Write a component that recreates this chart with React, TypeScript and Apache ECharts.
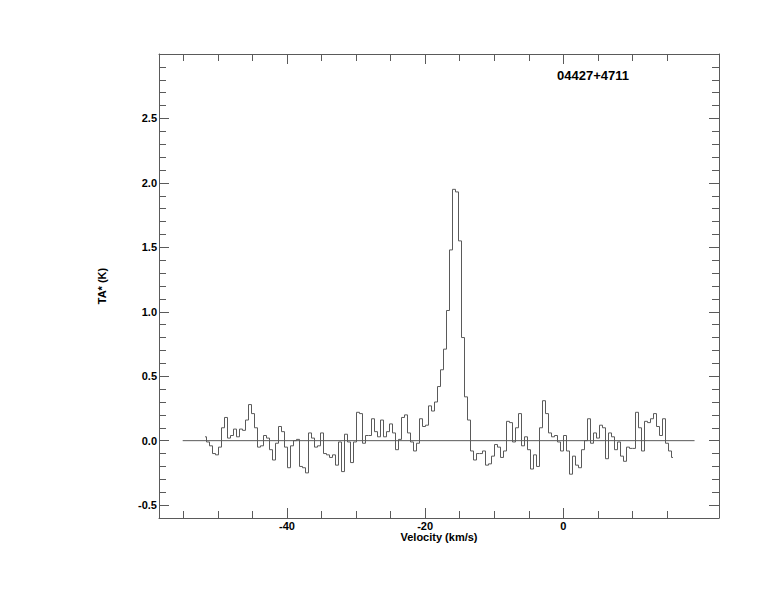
import { useEffect, useRef } from "react";
import * as echarts from "echarts";

// Spectrum: antenna temperature TA* (K) per channel; velocity grid = reference velocity + channel increment
const V0 = -51.87; // km/s, centre of first channel
const DV = 0.4343; // km/s per channel
const TA = [
  0.03, -0.01, -0.04, -0.1, -0.11, -0.05, 0.1, 0.18, 0.02, 0.04,
  0.09, 0.03, 0.09, 0.08, 0.16, 0.28, 0.21, 0.1, -0.05, -0.04,
  0.04, 0.02, -0.07, -0.15, -0.02, 0.11, 0.07, -0.05, -0.21, -0.04,
  0.0, 0.01, -0.2, -0.21, -0.25, 0.06, 0.02, -0.05, -0.04, 0.06,
  -0.1, -0.11, -0.13, -0.11, -0.19, -0.01, -0.24, 0.05, -0.01, -0.17,
  -0.01, 0.22, 0.21, -0.02, 0.04, 0.04, 0.17, 0.07, 0.03, 0.16,
  0.03, 0.07, 0.13, 0.06, -0.07, 0.01, 0.18, 0.2, 0.06, -0.01,
  -0.08, -0.02, 0.17, 0.11, 0.12, 0.27, 0.23, 0.3, 0.42, 0.55,
  0.71, 1.01, 1.48, 1.95, 1.93, 1.55, 0.8, 0.34, 0.16, -0.08,
  -0.15, -0.1, -0.1, -0.08, -0.19, -0.18, -0.12, -0.03, -0.05, -0.13,
  -0.08, 0.15, 0.14, -0.01, 0.1, 0.21, -0.04, 0.03, -0.07, -0.22,
  -0.11, -0.2, 0.1, 0.31, 0.21, 0.06, 0.03, 0.04, -0.01, -0.08,
  0.04, -0.08, -0.26, -0.12, -0.19, -0.21, -0.07, 0.0, 0.17, -0.02,
  0.06, 0.02, 0.12, 0.1, -0.14, 0.06, 0.03, -0.07, -0.01, -0.12,
  -0.16, -0.05, -0.06, -0.06, 0.22, 0.1, -0.08, 0.15, 0.14, 0.17,
  0.21, 0.11, 0.04, 0.17, -0.02, -0.08, -0.13,
];
const VELOCITY = TA.map((_, i) => +(V0 + i * DV).toFixed(4));
const BASELINE_V = [-55.1, 19.0];

const X_MIN = -58.53;
const X_MAX = 22.54;
const Y_MIN = -0.6;
const Y_MAX = 3.0;
const X_MAJOR = [-40, -20, 0];
const X_MINOR = [-55, -50, -45, -35, -30, -25, -15, -10, -5, 5, 10, 15];
const Y_MAJOR = [-0.5, 0.0, 0.5, 1.0, 1.5, 2.0, 2.5];
const Y_MINOR = [
  -0.4, -0.3, -0.2, -0.1, 0.1, 0.2, 0.3, 0.4, 0.6, 0.7, 0.8, 0.9, 1.1, 1.2,
  1.3, 1.4, 1.6, 1.7, 1.8, 1.9, 2.1, 2.2, 2.3, 2.4, 2.6, 2.7, 2.8, 2.9,
];
const TITLE = "04427+4711";
const X_NAME = "Velocity (km/s)";
const Y_NAME = "TA* (K)";

const LINE = "#5a5a5a";
const FONT = "Liberation Sans";

export default function App() {
  const ref = useRef<HTMLDivElement>(null);
  useEffect(() => {
    if (!ref.current) return;
    const chart = echarts.init(ref.current, undefined, { renderer: "svg" });
    const labelStyle = {
      color: "#000",
      fontSize: 11,
      fontWeight: "bold" as const,
      fontFamily: FONT,
    };
    const xAxisBase = (position: "top" | "bottom", major: boolean, showLine: boolean, labels: boolean, name?: string) => ({
      type: "value" as const,
      position,
      min: X_MIN,
      max: X_MAX,
      name,
      nameLocation: "middle" as const,
      nameGap: 13,
      nameMoveOverlap: false,
      nameTextStyle: labelStyle,
      axisLine: { show: showLine, onZero: false, lineStyle: { color: LINE, width: 1 } },
      axisTick: {
        show: true,
        inside: true,
        length: major ? 10 : 7,
        customValues: major ? X_MAJOR : X_MINOR,
        lineStyle: { color: LINE, width: 1 },
      },
      axisLabel: labels
        ? { show: true, customValues: X_MAJOR, margin: 2, ...labelStyle, formatter: (v: number) => String(Math.round(v)) }
        : { show: false },
      splitLine: { show: false },
    });
    const yAxisBase = (position: "left" | "right", major: boolean, showLine: boolean, labels: boolean, name?: string) => ({
      type: "value" as const,
      position,
      min: Y_MIN,
      max: Y_MAX,
      name,
      nameLocation: "middle" as const,
      nameGap: 52,
      nameMoveOverlap: false,
      nameTextStyle: labelStyle,
      axisLine: { show: showLine, onZero: false, lineStyle: { color: LINE, width: 1 } },
      axisTick: {
        show: true,
        inside: true,
        length: major ? 10 : 7,
        customValues: major ? Y_MAJOR : Y_MINOR,
        lineStyle: { color: LINE, width: 1 },
      },
      axisLabel: labels
        ? { show: true, customValues: Y_MAJOR, margin: 2, ...labelStyle, formatter: (v: number) => v.toFixed(1) }
        : { show: false },
      splitLine: { show: false },
    });

    chart.setOption({
      animation: false,
      backgroundColor: "#fff",
      grid: { left: 159, top: 54, right: 55, bottom: 94, containLabel: false },
      xAxis: [
        xAxisBase("bottom", true, true, true, X_NAME),
        xAxisBase("bottom", false, false, false),
        xAxisBase("top", true, true, false),
        xAxisBase("top", false, false, false),
      ],
      yAxis: [
        yAxisBase("left", true, true, true, Y_NAME),
        yAxisBase("left", false, false, false),
        yAxisBase("right", true, true, false),
        yAxisBase("right", false, false, false),
      ],
      graphic: [
        {
          type: "text",
          left: 557,
          top: 69,
          style: { text: TITLE, fill: "#000", font: `bold 13px "${FONT}"` },
        },
      ],
      series: [
        {
          type: "line",
          xAxisIndex: 0,
          yAxisIndex: 0,
          data: BASELINE_V.map((v) => [v, 0]),
          showSymbol: false,
          silent: true,
          lineStyle: { color: LINE, width: 1 },
        },
        {
          type: "line",
          xAxisIndex: 0,
          yAxisIndex: 0,
          step: "middle",
          data: VELOCITY.map((v, i) => [v, TA[i]]),
          showSymbol: false,
          silent: true,
          lineStyle: { color: LINE, width: 1 },
        },
      ],
    });
    return () => chart.dispose();
  }, []);
  return (
    <div
      ref={ref}
      style={{ position: "fixed", left: 0, top: 0, width: 774, height: 612, background: "#fff" }}
    />
  );
}
